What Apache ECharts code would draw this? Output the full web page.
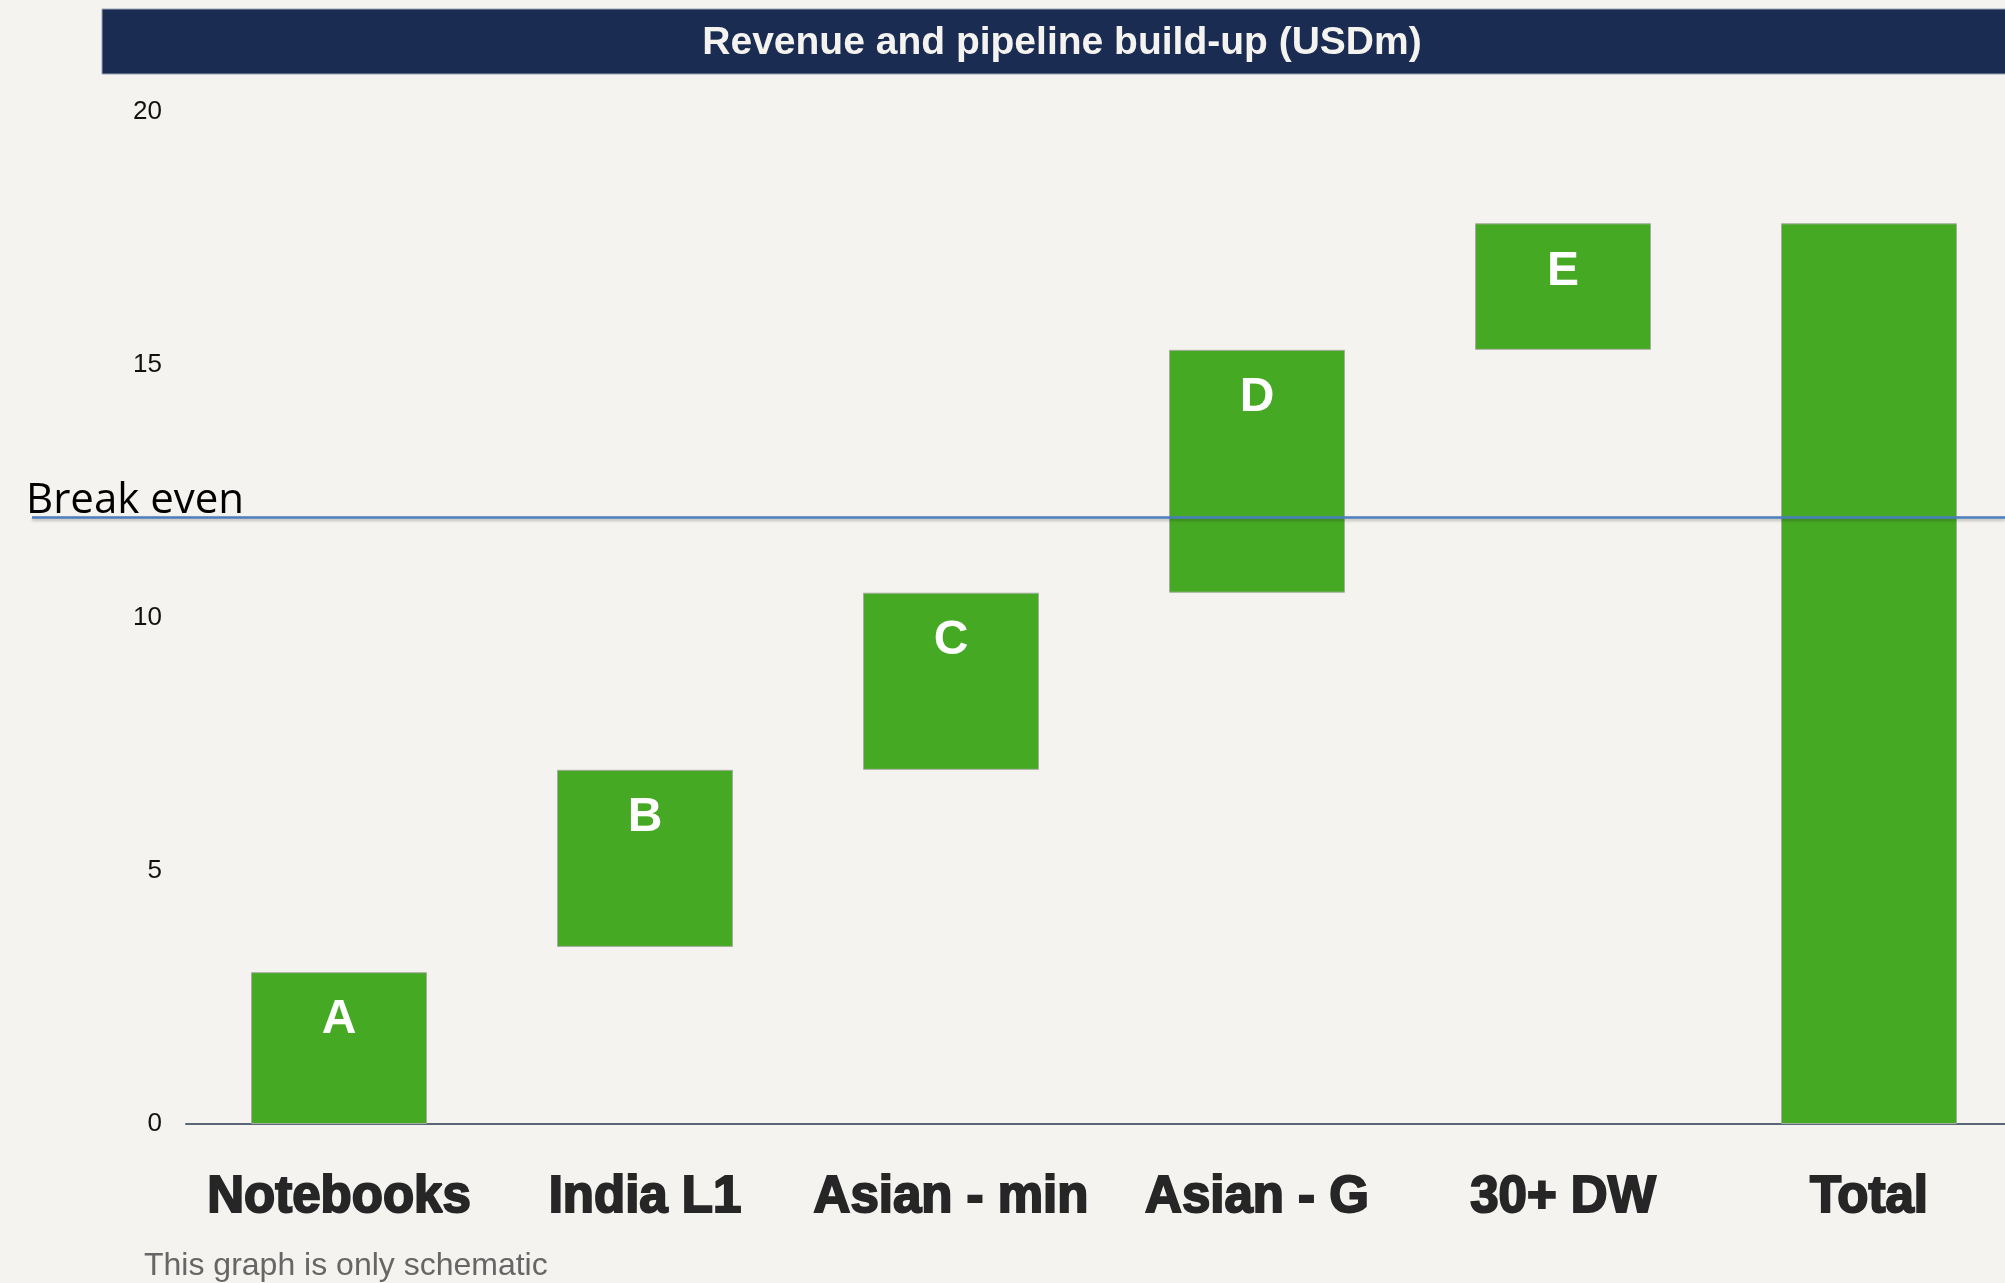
<!DOCTYPE html>
<html>
<head>
<meta charset="utf-8">
<script src="https://cdn.jsdelivr.net/npm/echarts@6/dist/echarts.min.js"></script>
<style>
  html, body { margin: 0; padding: 0; background: #f4f3ef; }
  #chart { width: 2005px; height: 1283px; }
</style>
</head>
<body>
<div id="chart"></div>
<script>
// waterfall data (USDm)
const categories = ['Notebooks', 'India L1', 'Asian - min', 'Asian - G', '30+ DW', 'Total']
const barBases = [0, 3.5, 7, 10.5, 15.3, 0]
const barHeights = [3, 3.5, 3.5, 4.8, 2.5, 17.8]
const barLetters = ['A', 'B', 'C', 'D', 'E', '']
const breakEven = 12
const yTicks = { min: 0, max: 20, interval: 5 }

const green = '#46a923'
const gridTop = 112
const gridHeight = 1012

const chart = echarts.init(document.getElementById('chart'))

const option = {
  backgroundColor: '#f4f3ef',
  animation: false,
  graphic: [
    {
      type: 'rect',
      shape: { x: 102, y: 9, width: 1910, height: 65 },
      style: { fill: '#1b2c53', stroke: '#9aa3b5', lineWidth: 1 },
      z: 0,
    },
    {
      type: 'text',
      x: 1062,
      y: 43,
      style: {
        text: 'Revenue and pipeline build-up (USDm)',
        fill: '#f4f3ef',
        font: 'bold 39px "Liberation Sans", Arial, sans-serif',
        align: 'center',
        verticalAlign: 'middle',
      },
      z: 1,
    },
    {
      type: 'text',
      x: 144,
      y: 1266,
      style: {
        text: 'This graph is only schematic',
        fill: '#666666',
        font: '32px "Liberation Sans", Arial, sans-serif',
        align: 'left',
        verticalAlign: 'middle',
      },
    },
  ],
  grid: [
    { left: 186, top: gridTop, width: 1836, height: gridHeight, outerBoundsMode: 'none' },
    { left: 32, top: gridTop, right: 0, height: gridHeight, outerBoundsMode: 'none' },
  ],
  xAxis: [
    {
      type: 'category',
      gridIndex: 0,
      data: categories,
      axisTick: { show: false },
      axisLine: { lineStyle: { color: '#5b6676', width: 2 } },
      axisLabel: {
        margin: 48,
        color: '#262626',
        fontSize: 51,
        fontWeight: 'bold',
        fontFamily: '"Liberation Sans", Arial, sans-serif',
        textBorderColor: '#262626',
        textBorderWidth: 2,
        interval: 0,
      },
    },
    { type: 'value', gridIndex: 1, min: 0, max: 1, show: false },
  ],
  yAxis: [
    {
      type: 'value',
      gridIndex: 0,
      ...yTicks,
      splitLine: { show: false },
      axisLine: { show: false },
      axisTick: { show: false },
      axisLabel: {
        margin: 24,
        color: '#111',
        fontSize: 26,
        fontFamily: '"Liberation Sans", Arial, sans-serif',
      },
    },
    { type: 'value', gridIndex: 1, ...yTicks, show: false },
  ],
  series: [
    {
      type: 'bar',
      stack: 'waterfall',
      barWidth: 176,
      silent: true,
      itemStyle: { color: 'transparent' },
      data: barBases,
    },
    {
      type: 'bar',
      stack: 'waterfall',
      barWidth: 176,
      itemStyle: { color: green, borderColor: '#a6ad9f', borderWidth: 1 },
      label: {
        show: true,
        position: 'insideTop',
        distance: 24,
        color: '#fff',
        fontSize: 48,
        fontWeight: 'bold',
        fontFamily: '"Liberation Sans", Arial, sans-serif',
        formatter: (p) => barLetters[p.dataIndex],
      },
      data: barHeights,
    },
    {
      type: 'line',
      xAxisIndex: 1,
      yAxisIndex: 1,
      data: [],
      z: 5,
      markLine: {
        silent: true,
        symbol: ['none', 'none'],
        lineStyle: {
          type: 'solid',
          color: '#4a7ebf',
          width: 2.5,
          shadowColor: 'rgba(0,0,0,0.25)',
          shadowBlur: 3,
          shadowOffsetY: 2,
        },
        label: {
          show: true,
          position: 'insideStartTop',
          distance: [-6, -5],
          formatter: 'Break even',
          color: '#000',
          fontSize: 42,
          fontFamily: '"Open Sans", "Noto Sans", sans-serif',
        },
        data: [{ yAxis: breakEven }],
      },
    },
  ],
}

chart.setOption(option)
</script>
</body>
</html>
